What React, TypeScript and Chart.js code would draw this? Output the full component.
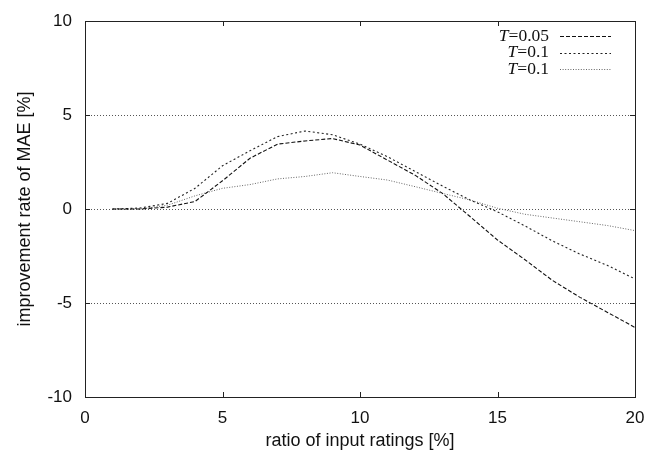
import React, { useEffect, useRef } from 'react';
import { Chart, registerables } from 'chart.js';

Chart.register(...registerables);

// ---- data ----
const ratios = [1, 2, 3, 4, 5, 6, 7, 8, 9, 10, 11, 12, 13, 14, 15, 16, 17, 18, 19, 20];
const seriesT005 = [0, 0, 0.1, 0.4, 1.5, 2.7, 3.45, 3.62, 3.75, 3.4, 2.6, 1.8, 0.83, -0.4, -1.65, -2.7, -3.8, -4.7, -5.5, -6.3];
const seriesT01a = [0, 0.05, 0.3, 1.1, 2.3, 3.1, 3.85, 4.15, 3.95, 3.45, 2.78, 2.0, 1.22, 0.48, -0.15, -0.9, -1.7, -2.4, -3.0, -3.72];
const seriesT01b = [0, 0, 0.2, 0.7, 1.1, 1.3, 1.6, 1.73, 1.93, 1.73, 1.54, 1.19, 0.83, 0.48, 0.04, -0.28, -0.48, -0.68, -0.88, -1.15];
const seriesLabels = ['T=0.05', 'T=0.1', 'T=0.1'];
const xTicks = [0, 5, 10, 15, 20];
const yTicks = [-10, -5, 0, 5, 10];
const xTitle = 'ratio of input ratings [%]';
const yTitle = 'improvement rate of MAE [%]';

const lineStyles = [
  { dash: [4, 2], color: '#111', width: 1.1 },
  { dash: [2, 2.5], color: '#222', width: 1.1 },
  { dash: [1, 1.6], color: '#666', width: 1 },
];

const framePlugin = {
  id: 'gnuFrame',
  beforeDatasetsDraw(chart: any) {
    const { ctx, chartArea, scales } = chart;
    const { left, right } = chartArea;
    const y = scales.y;
    ctx.save();
    ctx.strokeStyle = '#555';
    ctx.lineWidth = 1;
    ctx.setLineDash([1, 2]);
    for (const v of yTicks) {
      if (v === y.min || v === y.max) continue;
      const py = Math.round(y.getPixelForValue(v)) + 0.5;
      ctx.beginPath();
      ctx.moveTo(left, py);
      ctx.lineTo(right, py);
      ctx.stroke();
    }
    ctx.restore();
  },
  afterDatasetsDraw(chart: any) {
    const { ctx, chartArea, scales } = chart;
    const { left, right, top, bottom } = chartArea;
    const x = scales.x;
    const y = scales.y;
    ctx.save();
    ctx.setLineDash([]);
    ctx.strokeStyle = '#222';
    ctx.lineWidth = 1;
    ctx.strokeRect(Math.round(left) + 0.5, Math.round(top) + 0.5, Math.round(right - left), Math.round(bottom - top));
    const tl = 5;
    ctx.beginPath();
    for (const v of xTicks) {
      if (v === x.min || v === x.max) continue;
      const px = Math.round(x.getPixelForValue(v)) + 0.5;
      ctx.moveTo(px, bottom);
      ctx.lineTo(px, bottom - tl);
      ctx.moveTo(px, top);
      ctx.lineTo(px, top + tl);
    }
    for (const v of yTicks) {
      if (v === y.min || v === y.max) continue;
      const py = Math.round(y.getPixelForValue(v)) + 0.5;
      ctx.moveTo(left, py);
      ctx.lineTo(left + tl, py);
      ctx.moveTo(right, py);
      ctx.lineTo(right - tl, py);
    }
    ctx.stroke();

    // legend
    const textRight = 549;
    const lx0 = 560;
    const lx1 = 611;
    seriesLabels.forEach((lab, i) => {
      const cy = 36 + i * 16.5;
      const rest = lab.slice(1);
      ctx.fillStyle = '#111';
      ctx.textBaseline = 'middle';
      ctx.textAlign = 'right';
      ctx.font = '17.5px "Liberation Serif"';
      ctx.fillText(rest, textRight, cy);
      const w = ctx.measureText(rest).width;
      ctx.font = 'italic 17.5px "Liberation Serif"';
      ctx.fillText(lab[0], textRight - w, cy);
      const st = lineStyles[i];
      ctx.strokeStyle = st.color;
      ctx.lineWidth = st.width;
      ctx.setLineDash(st.dash);
      ctx.beginPath();
      ctx.moveTo(lx0, Math.round(cy) + 0.5);
      ctx.lineTo(lx1, Math.round(cy) + 0.5);
      ctx.stroke();
    });
    ctx.restore();
  },
};

export default function App() {
  const ref = useRef<HTMLCanvasElement>(null);
  useEffect(() => {
    if (!ref.current) return;
    const all = [seriesT005, seriesT01a, seriesT01b];
    const chart = new Chart(ref.current, {
      type: 'line',
      data: {
        datasets: all.map((s, i) => ({
          label: seriesLabels[i],
          data: ratios.map((r, j) => ({ x: r, y: s[j] })),
          borderColor: lineStyles[i].color,
          borderWidth: lineStyles[i].width,
          borderDash: lineStyles[i].dash,
          pointRadius: 0,
          tension: 0,
          fill: false,
        })),
      },
      options: {
        responsive: false,
        animation: false,
        layout: { padding: { top: 21, right: 10, left: 0, bottom: 0 } },
        plugins: { legend: { display: false }, title: { display: false }, tooltip: { enabled: false } },
        scales: {
          x: {
            type: 'linear',
            min: 0,
            max: 20,
            afterFit: (s: any) => { s.height = 53; s.paddingLeft = 0; s.paddingRight = 0; },
            afterBuildTicks: (s: any) => { s.ticks = xTicks.map((v) => ({ value: v })); },
            grid: { display: false, drawTicks: false },
            border: { display: false },
            ticks: { padding: 11, color: '#111', font: { family: '"Liberation Sans"', size: 17 } },
            title: {
              display: true,
              text: xTitle,
              color: '#111',
              padding: { top: 0, bottom: 0 },
              font: { family: '"Liberation Sans"', size: 18, lineHeight: 1 },
            },
          },
          y: {
            type: 'linear',
            min: -10,
            max: 10,
            afterFit: (s: any) => { s.width = 85; s.paddingTop = 0; s.paddingBottom = 0; },
            afterBuildTicks: (s: any) => { s.ticks = yTicks.map((v) => ({ value: v })); },
            grid: { display: false, drawTicks: false },
            border: { display: false },
            ticks: { padding: 13, color: '#111', font: { family: '"Liberation Sans"', size: 17 } },
            title: {
              display: true,
              text: yTitle,
              color: '#111',
              padding: { top: 16, bottom: 0 },
              font: { family: '"Liberation Sans"', size: 18, lineHeight: 1 },
            },
          },
        },
      },
      plugins: [framePlugin],
    } as any);
    return () => chart.destroy();
  }, []);
  return (
    <div style={{ position: 'absolute', left: 0, top: 0, width: 645, height: 450, background: '#fff' }}>
      <canvas ref={ref} width={645} height={450} style={{ display: 'block' }} />
    </div>
  );
}
